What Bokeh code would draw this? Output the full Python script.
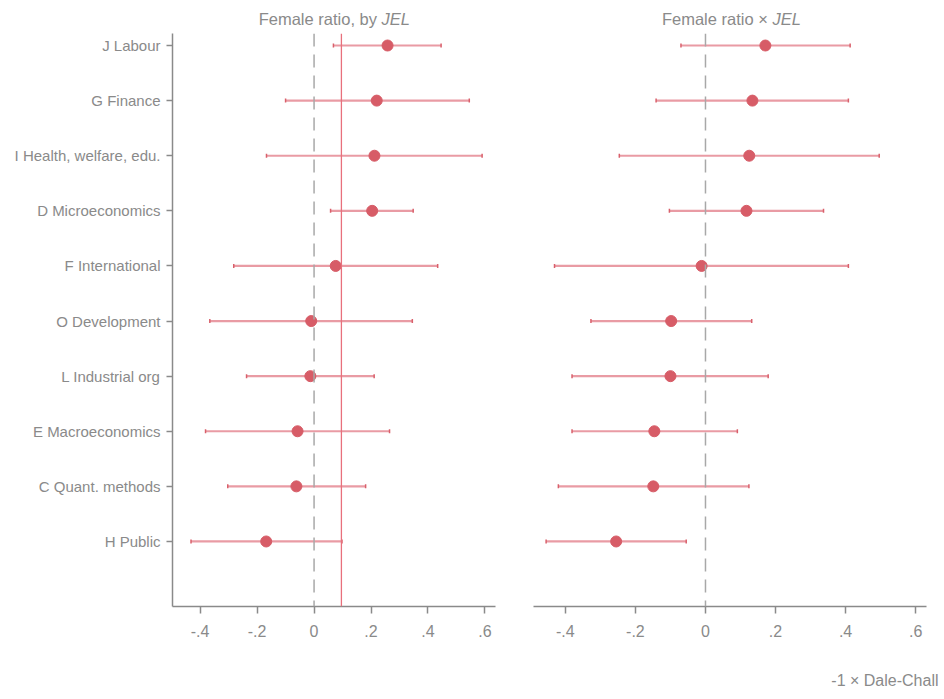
from bokeh.plotting import figure
from bokeh.layouts import row, column
from bokeh.models import Span, FixedTicker, Range1d
from bokeh.core.properties import value
from bokeh.embed import file_html
from bokeh.resources import INLINE

categories = ["J Labour", "G Finance", "I Health, welfare, edu.", "D Microeconomics",
              "F International", "O Development", "L Industrial org", "E Macroeconomics",
              "C Quant. methods", "H Public"]
left_est = [0.258, 0.220, 0.212, 0.204, 0.076, -0.010, -0.013, -0.058, -0.062, -0.168]
left_lo = [0.068, -0.100, -0.167, 0.058, -0.282, -0.366, -0.237, -0.381, -0.303, -0.432]
left_hi = [0.446, 0.545, 0.590, 0.348, 0.434, 0.345, 0.211, 0.265, 0.181, 0.098]
right_est = [0.171, 0.134, 0.125, 0.117, -0.011, -0.098, -0.100, -0.146, -0.149, -0.255]
right_lo = [-0.070, -0.141, -0.246, -0.103, -0.431, -0.327, -0.381, -0.381, -0.420, -0.455]
right_hi = [0.413, 0.408, 0.496, 0.337, 0.408, 0.132, 0.179, 0.091, 0.124, -0.055]
mean_ratio = 0.096
x_ticks = [-0.4, -0.2, 0, 0.2, 0.4, 0.6]
x_tick_labels = ["-.4", "-.2", "0", ".2", ".4", ".6"]
titles = [("Female ratio, by ", "JEL"), ("Female ratio \u00d7 ", "JEL")]
x_label = "-1 \u00d7 Dale-Chall"

FONT = "Liberation Sans"
GREY = "#8a8a8a"
PT = "#d75c67"
CI = "#e58a94"

ypos = list(range(len(categories), 0, -1))

W1, W2 = 514, 430
L1, R1 = 172, 19
L2, R2 = 19, 18
TOP_H = 33
MAIN_H = 632
BOT_H = 699 - TOP_H - MAIN_H
XR1 = (-0.497, 0.637)
XR2 = (-0.491, 0.631)


def bare(width, height, xr, yr, bl, br):
    p = figure(width=width, height=height, output_backend="svg", toolbar_location=None,
               x_range=Range1d(*xr), y_range=Range1d(*yr), min_border=0,
               min_border_left=bl, min_border_right=br)
    p.axis.visible = False
    p.grid.visible = False
    p.outline_line_color = None
    return p


def make(width, xr, bl, br, yaxis):
    p = figure(width=width, height=MAIN_H, output_backend="svg", toolbar_location=None,
               x_range=Range1d(*xr), y_range=Range1d(-0.18, 10.218), min_border=0,
               min_border_left=bl, min_border_right=br, min_border_top=0,
               min_border_bottom=MAIN_H - 573)
    p.outline_line_color = None
    p.grid.visible = False
    ax = p.xaxis[0]
    ax.ticker = FixedTicker(ticks=x_ticks)
    ax.major_label_overrides = {t: l for t, l in zip(x_ticks, x_tick_labels)}
    ax.minor_tick_line_color = None
    ax.axis_line_color = GREY
    ax.axis_line_width = 1.5
    ax.major_tick_line_color = GREY
    ax.major_tick_line_width = 1.5
    ax.major_tick_out = 7
    ax.major_tick_in = 0
    ax.major_label_standoff = 11
    ax.major_label_text_font = FONT
    ax.major_label_text_font_size = "16px"
    ax.major_label_text_color = GREY
    ay = p.yaxis[0]
    if yaxis:
        ay.ticker = FixedTicker(ticks=ypos)
        ay.major_label_overrides = {y: c for y, c in zip(ypos, categories)}
        ay.minor_tick_line_color = None
        ay.axis_line_color = GREY
        ay.axis_line_width = 1.5
        ay.major_tick_line_color = GREY
        ay.major_tick_line_width = 1.5
        ay.major_tick_out = 6
        ay.major_tick_in = 0
        ay.major_label_standoff = 6
        ay.major_label_text_font = FONT
        ay.major_label_text_font_size = "15px"
        ay.major_label_text_color = GREY
    else:
        ay.visible = False
    p.add_layout(Span(location=0, dimension="height", line_color="#a8a8a8",
                      line_width=1.5, line_dash="13 8"))
    return p


def draw(p, est, lo, hi):
    p.segment(x0=lo, y0=ypos, x1=hi, y1=ypos, line_color=CI, line_width=2.2, line_alpha=0.85)
    p.scatter(x=lo + hi, y=ypos + ypos, marker="dash", angle=1.5708, size=4,
              line_color="#d9606b", line_width=1.5)
    p.scatter(x=est, y=ypos, size=11, fill_color=PT, line_color=PT)


p1 = make(W1, XR1, L1, R1, True)
p1.add_layout(Span(location=mean_ratio, dimension="height", line_color="#e8707c",
                   line_width=1.3))
draw(p1, left_est, left_lo, left_hi)

p2 = make(W2, XR2, L2, R2, False)
draw(p2, right_est, right_lo, right_hi)

t1 = bare(W1, TOP_H, XR1, (0, 1), L1, R1)
t2 = bare(W2, TOP_H, XR2, (0, 1), L2, R2)
for t, xt, (plain, ital) in ((t1, 0.237, titles[0]), (t2, 0.191, titles[1])):
    t.text(x=[xt], y=[0.45], text=[plain], text_align="right", text_baseline="middle",
           text_font=value(FONT), text_font_size="16.5px", text_color=GREY)
    t.text(x=[xt], y=[0.45], text=[ital], text_align="left", text_baseline="middle",
           text_font=value(FONT), text_font_size="16.5px", text_font_style="italic",
           text_color=GREY)

b = bare(W1 + W2, BOT_H, (0, W1 + W2), (0, 1), 0, 0)
b.text(x=[938], y=[0.55], text=[x_label], text_align="right", text_baseline="middle",
       text_font=value(FONT), text_font_size="16px", text_color=GREY)

layout = column(row(t1, t2), row(p1, p2), b)
open("out.html", "w").write(file_html(layout, INLINE))
